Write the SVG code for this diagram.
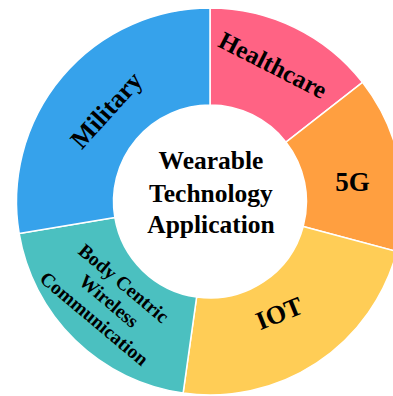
<svg xmlns="http://www.w3.org/2000/svg" width="393" height="396" viewBox="0 0 393 396">
  <style>
    .seg { stroke: #ffffff; stroke-width: 1.5; stroke-linejoin: round; }
    .lbl { font-family: "Liberation Serif", "Times New Roman", serif; font-weight: bold; fill: #000000; text-anchor: middle; }
  </style>
  <rect width="393" height="396" fill="#ffffff"/>

  <!-- doughnut ring: centre (210,201.5), outer r 193.5, inner r 96.5 -->
  <g id="healthcare">
    <path class="seg" fill="#FF6384" d="M210,8 A193.5,193.5 0 0 1 362.5,82.4 L286,142.1 A96.5,96.5 0 0 0 210,105 Z"/>
    <text class="lbl" font-size="25" transform="translate(273,65) rotate(27)" y="8.5">Healthcare</text>
  </g>
  <g id="fiveg">
    <path class="seg" fill="#FF9F40" d="M362.5,82.4 A193.5,193.5 0 0 1 396.9,251.6 L303.2,226.5 A96.5,96.5 0 0 0 286,142.1 Z"/>
    <text class="lbl" font-size="27" x="352.5" y="190.5">5G</text>
  </g>
  <g id="iot">
    <path class="seg" fill="#FFCD56" d="M396.9,251.6 A193.5,193.5 0 0 1 183.1,393.1 L196.6,297.1 A96.5,96.5 0 0 0 303.2,226.5 Z"/>
    <text class="lbl" font-size="26" transform="translate(279,313) rotate(-22)" y="9">IOT</text>
  </g>
  <g id="body-centric">
    <path class="seg" fill="#4BC0C0" d="M183.1,393.1 A193.5,193.5 0 0 1 19.15,233.44 L114.82,217.43 A96.5,96.5 0 0 0 196.6,297.1 Z"/>
    <g class="lbl" font-size="19.5" transform="translate(109,301) rotate(40)">
      <text y="-16.5">Body Centric</text>
      <text y="6.5">Wireless</text>
      <text y="29.5">Communication</text>
    </g>
  </g>
  <g id="military">
    <path class="seg" fill="#36A2EB" d="M19.15,233.44 A193.5,193.5 0 0 1 210,8 L210,105 A96.5,96.5 0 0 0 114.82,217.43 Z"/>
    <text class="lbl" font-size="26" transform="translate(106,110) rotate(-48)" y="9">Military</text>
  </g>

  <g id="centre-title">
    <text class="lbl" font-size="25.5" x="211" y="169">Wearable</text>
    <text class="lbl" font-size="25.5" x="211" y="202">Technology</text>
    <text class="lbl" font-size="25.5" x="211" y="233">Application</text>
  </g>
</svg>
